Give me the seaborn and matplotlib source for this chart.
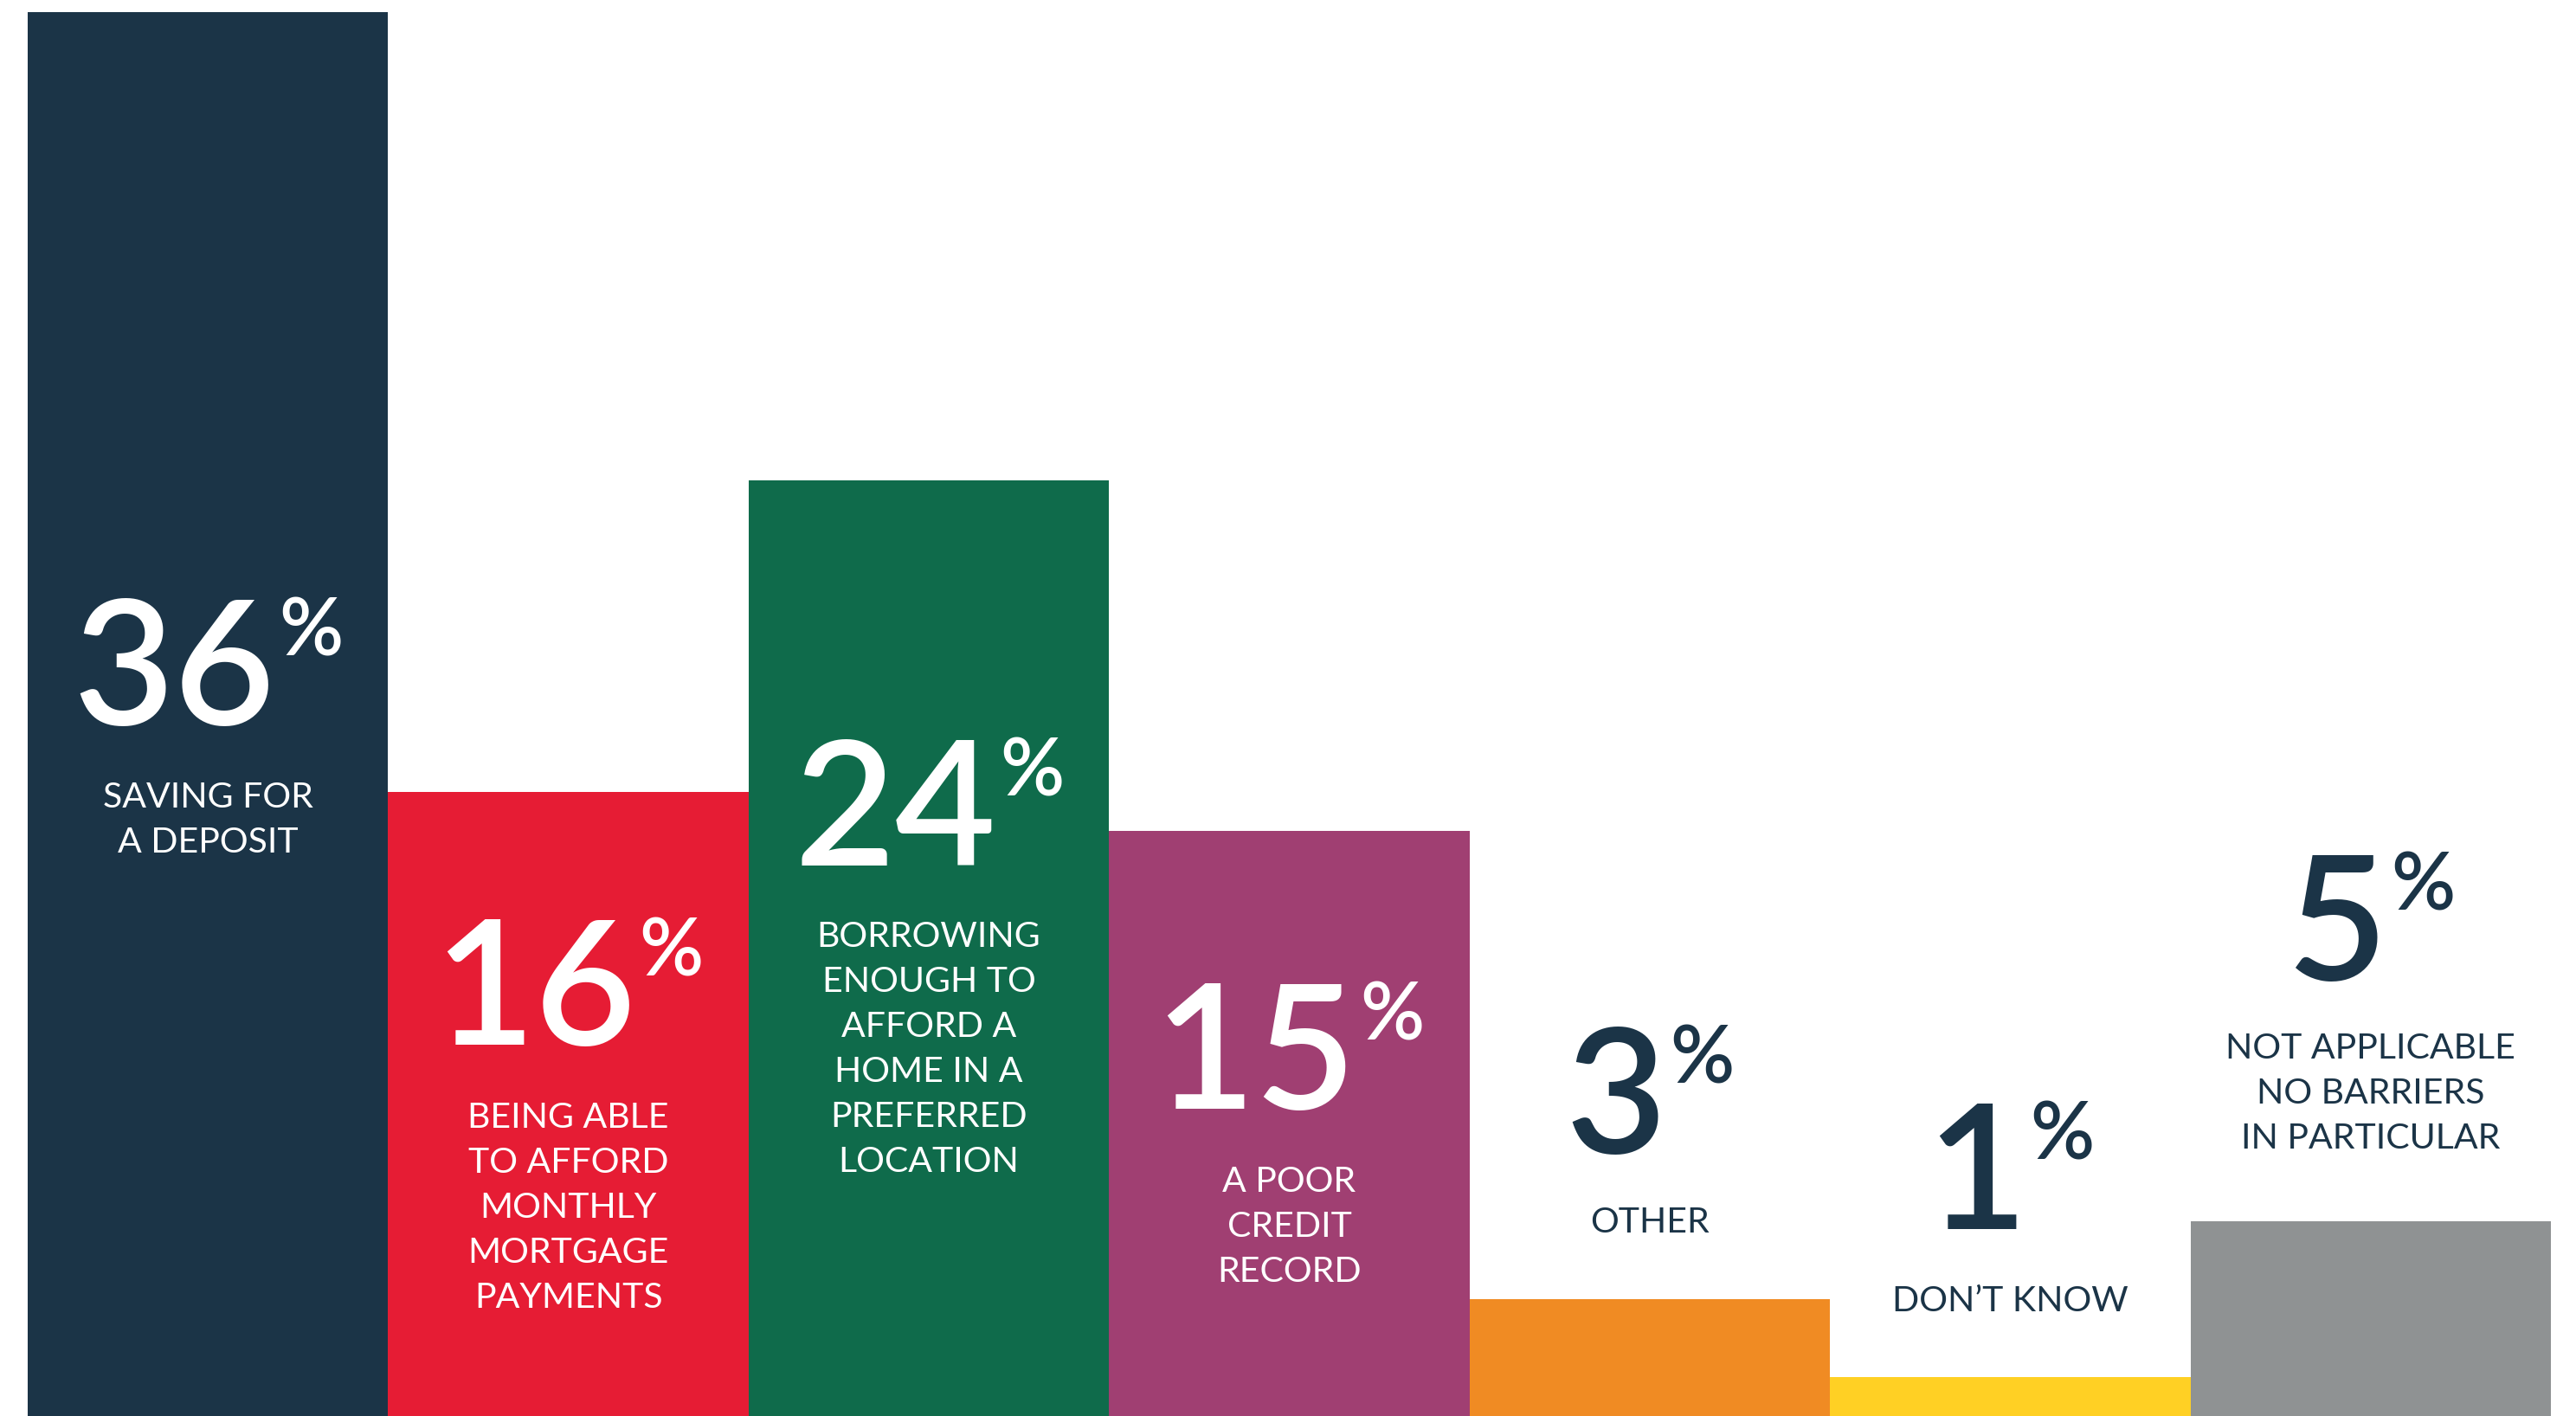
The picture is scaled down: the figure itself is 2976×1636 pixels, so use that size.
import matplotlib
matplotlib.use("Agg")
import matplotlib.pyplot as plt
import seaborn as sns
import pandas as pd
from matplotlib.transforms import blended_transform_factory

# Survey: biggest barriers to buying a home
categories = [
    "SAVING FOR\nA DEPOSIT",
    "BEING ABLE\nTO AFFORD\nMONTHLY\nMORTGAGE\nPAYMENTS",
    "BORROWING\nENOUGH TO\nAFFORD A\nHOME IN A\nPREFERRED\nLOCATION",
    "A POOR\nCREDIT\nRECORD",
    "OTHER",
    "DON\u2019T KNOW",
    "NOT APPLICABLE\nNO BARRIERS\nIN PARTICULAR",
]
shares = [36, 16, 24, 15, 3, 1, 5]
bar_colors = ["#1B3447", "#E61C34", "#0F6B4B", "#A03F72", "#F08B23", "#FFD024", "#8F9293"]

NAVY = "#1B3447"
W, H = 2976, 1636
DPI = 100

# label placement (pixels from the top of the figure)
digit_baseline_px = [837, 1207, 1000, 1281, 1332, 1420, 1132]
label_top_px = [903, 1273, 1064, 1347, 1394, 1485, 1193]
text_inside = [True, True, True, True, False, False, False]

sns.set_theme(style="white")
plt.rcParams["font.family"] = ["Lato", "DejaVu Sans"]

fig = plt.figure(figsize=(W / DPI, H / DPI), dpi=DPI)
ax = fig.add_axes([32 / W, 0, 2915 / W, 1 - 14 / H])

df = pd.DataFrame({"barrier": categories, "share": shares})
sns.barplot(data=df, x="barrier", y="share", hue="barrier", order=categories,
            hue_order=categories, palette=bar_colors, saturation=1, width=1.0,
            linewidth=0, legend=False, ax=ax)

ax.set_xlim(-0.5, len(categories) - 0.5)
ax.set_ylim(0, 36)
ax.set_axis_off()

renderer = fig.canvas.get_renderer()
trans = blended_transform_factory(ax.transData, fig.transFigure)

digit_size = 145
pct_size = 66
label_size = 29.5
gap_px = 4

for i, (cat, val) in enumerate(zip(categories, shares)):
    color = "white" if text_inside[i] else NAVY
    y_base = 1 - digit_baseline_px[i] / H

    num = fig.text(0, y_base, f"{val}", fontsize=digit_size, fontweight="semibold",
                   color=color, ha="left", va="baseline")
    pct = fig.text(0, 0, "%", fontsize=pct_size, fontweight="semibold",
                   color=color, ha="left", va="top")
    wn = num.get_window_extent(renderer).width
    wp = pct.get_window_extent(renderer).width
    cx = ax.transData.transform((i, 0))[0]
    left = cx - (wn + gap_px + wp) / 2
    num.set_x(left / W)

    # percent sign sits at the top of the digits
    digit_top_px = digit_baseline_px[i] - 144
    pct.set_position(((left + wn + gap_px) / W, 1 - (digit_top_px - 4) / H))

    ax.text(i, 1 - label_top_px[i] / H, cat, transform=trans, fontsize=label_size,
            fontweight="normal", color=color, ha="center", va="top",
            multialignment="center", linespacing=1.5)

fig.savefig("out.png", dpi=DPI, facecolor="white")
